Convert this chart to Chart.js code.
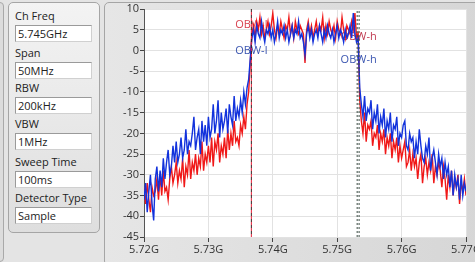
<!DOCTYPE html>
<html>
<head>
<meta charset="utf-8">
<script src="https://cdn.jsdelivr.net/npm/chart.js@4"></script>
<style>
  html, body { margin: 0; padding: 0; }
  body { width: 475px; height: 262px; overflow: hidden; position: relative;
         background: #e4e4e4; font-family: 'Open Sans', 'Noto Sans', sans-serif; font-size: 11px; color: #222; }
  .edge { position: absolute; left: -8px; top: 2px; width: 10px; height: 258px;
          border: 1px solid #a9a9a9; border-radius: 4px; background: #dcdcdc; }
  .panel { position: absolute; left: 8px; top: 2px; width: 90px; height: 229px;
           border: 1px solid #a5a5a5; border-radius: 5px;
           background: linear-gradient(#f3f3f3, #dedede); }
  .lbl { position: absolute; left: 6px; line-height: 14px; }
  .box { position: absolute; left: 6px; width: 73px; height: 15px; line-height: 15px;
         background: #fff; border: 1px solid #9a9a9a; border-right-color: #d0d0d0; border-bottom-color: #d0d0d0;
         padding-left: 2px; }
  .graph { position: absolute; left: 104px; top: 2px; width: 380px; height: 262px;
           border: 1px solid #a5a5a5; border-radius: 5px;
           background: linear-gradient(90deg, #e6e6e6, #d6d6d6); }
  #wrap { position: absolute; left: 105px; top: 0; width: 370px; height: 262px; }
</style>
</head>
<body>
<div class="edge"></div>
<div class="panel" id="panel"></div>
<div class="graph"></div>
<div id="wrap"><canvas id="spec"></canvas></div>
<script>
// ── Settings panel ──────────────────────────────────────────────────────────
const SETTING_NAMES  = ['Ch Freq', 'Span', 'RBW', 'VBW', 'Sweep Time', 'Detector Type'];
const SETTING_VALUES = ['5.745GHz', '50MHz', '200kHz', '1MHz', '100ms', 'Sample'];
const SETTING_TOPS   = [6, 43, 78, 114, 152, 188];

const panel = document.getElementById('panel');
SETTING_NAMES.forEach((name, i) => {
  panel.innerHTML += `<div class="lbl" style="top:${SETTING_TOPS[i]}px">${name}</div>` +
                     `<div class="box" style="top:${SETTING_TOPS[i] + 16}px">${SETTING_VALUES[i]}</div>`;
});

// ── Spectrum data (dBm, 0.25 MHz bins from 5.72 GHz) ────────────────────────
const FREQ_START = 5.72;
const FREQ_STEP  = 0.00025;

const BLUE_DBM = [
  -36,-32,-39,-34,-30,-37,-41,-31,-28,-34,
  -29,-33,-26,-31,-27,-24,-30,-28,-23,-27,
  -22,-27,-25,-21,-26,-24,-19,-25,-22,-23,
  -20,-16,-24,-21,-19,-25,-17,-22,-18,-23,
  -16,-21,-19,-13,-20,-17,-12,-21,-15,-19,
  -17,-14,-20,-13,-16,-18,-11,-17,-14,-16,
  -12,-15,-10,-13,-9,-7,-2,
  3,5,2,6,4,3,7,4,2,5,
  4,6,3,5,2,4,7,3,5,4,
  6,3,5,2,4,6,3,5,4,7,
  3,4,2,-1,4,6,3,5,2,4,
  5,3,6,4,2,5,3,6,4,3,
  5,2,4,6,3,5,4,2,5,3,
  4,6,3,9,4,2,3,
  -9,-13,-16,-11,-17,-14,-15,-12,-19,-15,
  -17,-13,-20,-16,-18,-14,-21,-17,-19,-15,
  -22,-18,-19,-16,-23,-20,-21,-18,-17,-23,
  -24,-20,-22,-21,-26,-22,-25,-19,-23,-26,
  -27,-23,-25,-21,-29,-26,-24,-27,-30,-25,
  -28,-26,-31,-27,-30,-28,-33,-29,-35,-30,
  -33,-31,-36,-30,-35,-32,-34
];

const RED_DBM = [
  -33,-37,-32,-36,-39,-33,-35,-34,-31,-36,
  -30,-35,-29,-34,-33,-36,-31,-28,-32,-30,
  -27,-32,-29,-31,-26,-33,-28,-30,-24,-31,
  -27,-29,-25,-30,-26,-28,-22,-29,-25,-27,
  -23,-27,-21,-28,-22,-24,-20,-27,-23,-25,
  -21,-26,-19,-24,-20,-23,-17,-22,-21,-23,
  -18,-20,-16,-19,-13,-10,-3,
  4,6,3,7,5,8,4,6,3,5,
  7,4,6,9,5,3,6,4,7,5,
  3,6,5,8,4,6,3,7,5,4,
  6,5,4,-3,5,7,4,6,3,5,
  7,4,6,5,8,3,6,4,7,5,
  4,6,3,7,5,4,8,5,3,6,
  5,4,7,5,9,3,4,
  -12,-17,-20,-15,-22,-18,-19,-17,-23,-20,
  -21,-18,-24,-20,-22,-19,-25,-21,-23,-20,
  -26,-22,-24,-21,-27,-23,-26,-24,-22,-28,
  -27,-24,-29,-25,-28,-26,-31,-27,-25,-32,
  -28,-26,-30,-27,-29,-25,-32,-28,-30,-27,
  -29,-33,-28,-31,-36,-30,-33,-29,-35,-31,
  -33,-30,-37,-32,-34,-31,-35
];

// occupied bandwidth markers (GHz) and their labels
const OBW_LOW   = 5.73667;
const OBW_HIGH  = [5.7531, 5.7534];
const OBW_TEXT  = ['OBW-l', 'OBW-l', 'OBW-h', 'OBW-h'];
const OBW_FREQ  = [5.73667, 5.73667, 5.75333, 5.75333];
const OBW_LEVEL = [6.1, -0.2, 3.2, -2.2];
const OBW_COLOR = ['#d8404e', '#3a55b0', '#c03a50', '#3a55b0'];

const Y_MIN = -45, Y_MAX = 10;

const toPts = arr => arr.map((v, i) => ({ x: FREQ_START + i * FREQ_STEP, y: v }));
const vline = f => [{ x: f, y: Y_MIN }, { x: f, y: Y_MAX }];

// ── Plugins ─────────────────────────────────────────────────────────────────
const plotBg = {
  id: 'plotBg',
  beforeDraw(chart) {
    const { ctx, chartArea: a } = chart;
    ctx.save();
    ctx.fillStyle = '#fff';
    ctx.fillRect(a.left, a.top, a.right - a.left, a.bottom - a.top);
    ctx.strokeStyle = '#9a9a9a';
    ctx.beginPath();
    ctx.moveTo(a.left, a.top + 0.5); ctx.lineTo(a.right, a.top + 0.5);
    ctx.stroke();
    ctx.restore();
  }
};

const obwLabels = {
  id: 'obwLabels',
  beforeDatasetsDraw(chart) {
    const { ctx, scales: { x, y } } = chart;
    ctx.save();
    ctx.font = "11px 'Open Sans', sans-serif";
    ctx.textAlign = 'center';
    ctx.textBaseline = 'middle';
    OBW_TEXT.forEach((t, i) => {
      ctx.fillStyle = OBW_COLOR[i];
      ctx.fillText(t, x.getPixelForValue(OBW_FREQ[i]), y.getPixelForValue(OBW_LEVEL[i]));
    });
    ctx.restore();
  }
};

// ── Chart ───────────────────────────────────────────────────────────────────
const line = (data, color, width, order, dash, offset) => ({
  data, borderColor: color, borderWidth: width, pointRadius: 0,
  tension: 0, order, borderDash: dash || [], borderDashOffset: offset || 0
});

new Chart(document.getElementById('spec'), {
  type: 'line',
  data: {
    datasets: [
      line(toPts(RED_DBM),  '#f01818', 1.4, 3),
      line(toPts(BLUE_DBM), '#1232dc', 1.4, 2),
      line(vline(OBW_LOW),  '#3a2020', 1, 1, [3, 3], 3),
      line(vline(OBW_LOW),  '#e8203a', 1, 0, [3, 3]),
      line(vline(OBW_HIGH[0]), '#3d4d45', 1, 0, [2, 2]),
      line(vline(OBW_HIGH[1]), '#3d4d45', 1, 0, [2, 2]),
    ]
  },
  options: {
    responsive: true, maintainAspectRatio: false, animation: false,
    layout: { padding: { top: 9, right: 9, left: 0, bottom: 0 } },
    plugins: { legend: { display: false }, tooltip: { enabled: false } },
    scales: {
      x: {
        type: 'linear', min: FREQ_START, max: 5.77,
        ticks: { stepSize: 0.01, color: '#333', font: { family: 'Open Sans', size: 11 },
                 maxRotation: 0, padding: 1,
                 callback: v => v.toFixed(2) + 'G' },
        grid: { color: '#e2e2e2', tickColor: '#444', tickLength: 5 },
        border: { display: false },
        afterFit: s => { s.height = 25; s.paddingLeft = 0; s.paddingRight = 0; }
      },
      y: {
        min: Y_MIN, max: Y_MAX,
        ticks: { stepSize: 5, color: '#333', font: { family: 'Open Sans', size: 11 }, padding: 1 },
        grid: { color: '#e2e2e2', tickColor: '#444', tickLength: 4 },
        border: { color: '#555' },
        afterFit: s => { s.width = 39; s.paddingTop = 0; s.paddingBottom = 0; }
      }
    }
  },
  plugins: [plotBg, obwLabels]
});
</script>
</body>
</html>
